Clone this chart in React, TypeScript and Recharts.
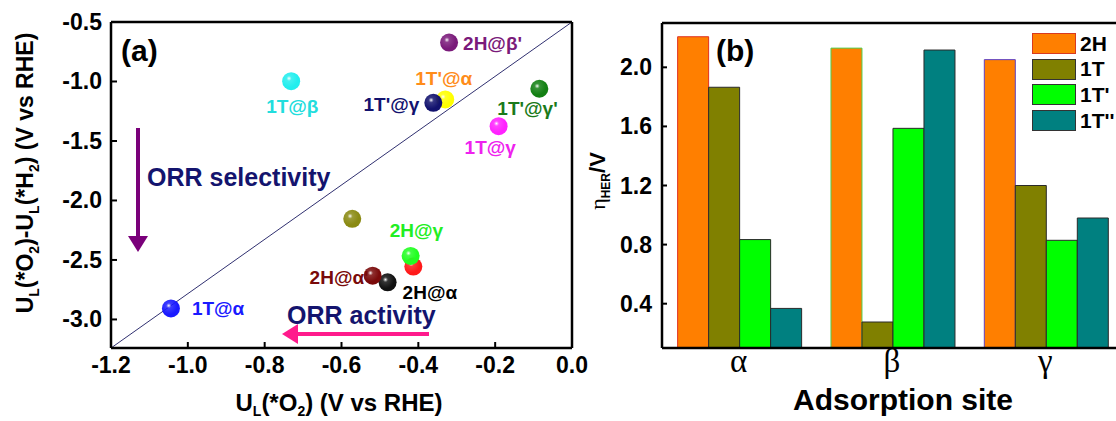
import React from 'react';
import {
  ScatterChart,
  Scatter,
  XAxis,
  YAxis,
  ReferenceLine,
  BarChart,
  Bar,
  Cell,
  Legend,
} from 'recharts';

// panel (a): limiting potentials
const pointLabels = ['1T@α', '', '2H@α', "2H@α'", '', '2H@γ', "2H@β'", "1T'@α", "1T'@γ", "1T'@γ'", '1T@γ', '1T@β'];
const uO2 = [-1.044, -0.572, -0.48, -0.519, -0.413, -0.42, -0.32, -0.33, -0.361, -0.085, -0.191, -0.731];
const uDiff = [-2.907, -2.154, -2.688, -2.632, -2.556, -2.466, -0.673, -1.151, -1.179, -1.061, -1.376, -0.997];
const xTicksA = [-1.2, -1.0, -0.8, -0.6, -0.4, -0.2, 0.0];
const yTicksA = [-3.0, -2.5, -2.0, -1.5, -1.0, -0.5];

// panel (b): HER overpotential
const sites = ['α', 'β', 'γ'];
const phases = ['2H', '1T', "1T'", "1T''"];
const eta2H = [2.207, 2.13, 2.052];
const eta1T = [1.865, 0.276, 1.2];
const eta1Tp = [0.834, 1.587, 0.829];
const eta1Tpp = [0.368, 2.117, 0.98];
const yTicksB = [0.4, 0.8, 1.2, 1.6, 2.0];

// styles
const ballColors = ['#1a1aff', '#8a8a12', '#111111', '#7a0a0a', '#ff1a1a', '#22ff22', '#7a1a7a', '#ffff00', '#12126e', '#138013', '#ff22ff', '#22eeee'];
const labelColors = ['#1a1aff', '#000', '#000000', '#7a0a0a', '#000', '#22ee22', '#7a1a7a', '#ff8c1a', '#12126e', '#1a7a1a', '#ee22ee', '#22dddd'];
const labelOffsets: [number, number, 'start' | 'end'][] = [
  [21, 0, 'start'], [0, 0, 'start'], [15, 10, 'start'], [-4, 1, 'end'], [0, 0, 'start'], [-21, -26, 'start'],
  [14, 0, 'start'], [-30, -21, 'start'], [-14, 1, 'end'], [-42, 19, 'start'], [-34, 21, 'start'], [-25, 25, 'start'],
];
const twoHStroke = ['#e03020', '#50d050', '#6040c0'];
const SANS = '"Liberation Sans", Arial, sans-serif';
const SERIF = '"Liberation Serif", "Times New Roman", serif';

const points = uO2.map((x, i) => ({ x, y: uDiff[i], label: pointLabels[i], idx: i }));
const bars = sites.map((site, i) => ({
  site,
  h2: eta2H[i],
  t1: eta1T[i],
  t1p: eta1Tp[i],
  t1pp: eta1Tpp[i],
}));

const Ball = (props: any) => {
  const { cx, cy, payload } = props;
  const i = payload.idx;
  const [dx, dy, anchor] = labelOffsets[i];
  const id = `ball-${i}`;
  return (
    <g>
      <defs>
        <radialGradient id={id} cx="38%" cy="35%" r="65%">
          <stop offset="0%" stopColor="#ffffff" />
          <stop offset="22%" stopColor={ballColors[i]} stopOpacity={0.85} />
          <stop offset="75%" stopColor={ballColors[i]} />
          <stop offset="100%" stopColor={ballColors[i]} />
        </radialGradient>
      </defs>
      <circle cx={cx} cy={cy} r={9} fill={`url(#${id})`} />
      {payload.label ? (
        <text
          x={cx + dx}
          y={cy + dy}
          dy={7}
          textAnchor={anchor}
          fill={labelColors[i]}
          fontFamily={SANS}
          fontWeight="bold"
          fontSize={19}
        >
          {payload.label}
        </text>
      ) : null}
    </g>
  );
};

const XTickA = ({ x, y, payload }: any) => (
  <g>
    <line x1={x} x2={x} y1={y - 8} y2={y - 14} stroke="#000" strokeWidth={2} />
    <text x={x} y={y} dy={17} textAnchor="middle" fontFamily={SANS} fontWeight="bold" fontSize={23} fill="#000">
      {Number(payload.value).toFixed(1)}
    </text>
  </g>
);

const YTickA = ({ x, y, payload }: any) => (
  <g>
    <line x1={x + 8} x2={x + 14} y1={y} y2={y} stroke="#000" strokeWidth={2} />
    <text x={x - 1} y={y} dy={8} textAnchor="end" fontFamily={SANS} fontWeight="bold" fontSize={23} fill="#000">
      {Number(payload.value).toFixed(1)}
    </text>
  </g>
);

const XTickB = ({ x, y, payload }: any) => (
  <text x={x} y={y} dy={22} textAnchor="middle" fontFamily={SERIF} fontSize={33} fill="#000">
    {payload.value}
  </text>
);

const YTickB = ({ x, y, payload }: any) => (
  <g>
    <line x1={x + 8} x2={x + 13} y1={y} y2={y} stroke="#000" strokeWidth={2} />
    <text x={x - 2} y={y} dy={8} textAnchor="end" fontFamily={SANS} fontWeight="bold" fontSize={23} fill="#000">
      {Number(payload.value).toFixed(1)}
    </text>
  </g>
);

const BarLegend = ({ payload }: any) => (
  <div>
    {(payload || []).map((p: any, i: number) => (
      <div key={i} style={{ display: 'flex', alignItems: 'center', height: 25.6 }}>
        <div
          style={{
            width: 44,
            height: 21,
            boxSizing: 'border-box',
            background: p.color,
            border: `1.5px solid ${p.value === '2H' ? '#d83a20' : '#333'}`,
          }}
        />
        <span style={{ marginLeft: 4, fontFamily: SANS, fontWeight: 'bold', fontSize: 21, color: '#000' }}>
          {p.value}
        </span>
      </div>
    ))}
  </div>
);

const axisLine = { stroke: '#000', strokeWidth: 2.5 };
const tickLine = { stroke: '#000', strokeWidth: 2 };

export default function App() {
  return (
    <div style={{ position: 'fixed', left: 0, top: 0, width: 1116, height: 421, overflow: 'hidden', background: '#fff' }}>
      <div style={{ position: 'absolute', left: 0, top: 0 }}>
        <ScatterChart width={600} height={421} margin={{ top: 22, right: 28, left: 51, bottom: 33 }}>
          <XAxis
            type="number"
            dataKey="x"
            domain={[-1.2, 0]}
            ticks={xTicksA}
            allowDataOverflow
            axisLine={axisLine}
            tickLine={false}
            tickSize={0}
            tickMargin={8}
            height={40}
            tick={<XTickA />}
          />
          <XAxis
            xAxisId="top"
            orientation="top"
            type="number"
            domain={[-1.2, 0]}
            ticks={xTicksA}
            allowDataOverflow
            mirror
            tick={false}
            tickSize={6}
            axisLine={axisLine}
            tickLine={tickLine}
          />
          <YAxis
            type="number"
            dataKey="y"
            domain={[-3.24, -0.5]}
            ticks={yTicksA}
            allowDataOverflow
            axisLine={axisLine}
            tickLine={false}
            tickSize={0}
            tickMargin={8}
            width={60}
            tick={<YTickA />}
          />
          <YAxis
            yAxisId="right"
            orientation="right"
            type="number"
            domain={[-3.24, -0.5]}
            ticks={yTicksA}
            allowDataOverflow
            mirror
            tick={false}
            tickSize={6}
            axisLine={axisLine}
            tickLine={tickLine}
          />
          <ReferenceLine
            segment={[
              { x: -1.2, y: -3.24 },
              { x: 0, y: -0.5 },
            ]}
            stroke="#303070"
            strokeWidth={1}
            ifOverflow="visible"
          />
          <Scatter data={points} shape={<Ball />} isAnimationActive={false} />
        </ScatterChart>
      </div>

      <div style={{ position: 'absolute', left: 580, top: 0 }}>
        <BarChart
          width={560}
          height={421}
          data={bars}
          margin={{ top: 23, right: 18, left: 22, bottom: 33 }}
          barCategoryGap="10.2%"
          barGap={0}
        >
          <XAxis
            dataKey="site"
            axisLine={axisLine}
            tickLine={false}
            tickSize={0}
            tickMargin={2}
            height={40}
            tick={<XTickB />}
          />
          <XAxis
            xAxisId="top"
            orientation="top"
            dataKey="site"
            mirror
            tick={false}
            tickSize={6}
            axisLine={axisLine}
            tickLine={tickLine}
          />
          <YAxis
            type="number"
            domain={[0.1, 2.3]}
            ticks={yTicksB}
            allowDataOverflow
            axisLine={axisLine}
            tickLine={false}
            tickSize={0}
            tickMargin={8}
            width={60}
            tick={<YTickB />}
          />
          <Legend
            layout="horizontal"
            verticalAlign="middle"
            align="center"
            content={<BarLegend />}
            itemSorter={(item: any) => phases.indexOf(item.value)}
            wrapperStyle={{ left: 452, top: 31, width: 120, height: 110 }}
          />
          <Bar dataKey="h2" name={phases[0]} fill="#ff7f00" isAnimationActive={false}>
            {bars.map((_, i) => (
              <Cell key={i} stroke={twoHStroke[i]} strokeWidth={1} />
            ))}
          </Bar>
          <Bar dataKey="t1" name={phases[1]} fill="#808000" stroke="#2a2a2a" strokeWidth={1} isAnimationActive={false} />
          <Bar dataKey="t1p" name={phases[2]} fill="#00ff00" stroke="#2a2a2a" strokeWidth={1} isAnimationActive={false} />
          <Bar dataKey="t1pp" name={phases[3]} fill="#008080" stroke="#2a2a2a" strokeWidth={1} isAnimationActive={false} />
        </BarChart>
      </div>

      <svg
        width={1116}
        height={421}
        style={{ position: 'absolute', left: 0, top: 0, pointerEvents: 'none' }}
      >
        <defs>
          <marker id="headPurple" markerWidth="4" markerHeight="5" refX="1" refY="2.5" orient="auto" markerUnits="strokeWidth">
            <path d="M0,0 L4,2.5 L0,5 z" fill="#7a007a" />
          </marker>
          <marker id="headPink" markerWidth="4" markerHeight="5" refX="1" refY="2.5" orient="auto" markerUnits="strokeWidth">
            <path d="M0,0 L4,2.5 L0,5 z" fill="#ff1a8c" />
          </marker>
        </defs>
        {/* panel (a) annotations */}
        <text x={121} y={61} fontFamily={SANS} fontWeight="bold" fontSize={30} fill="#000">(a)</text>
        <text x={147} y={186} fontFamily={SANS} fontWeight="bold" fontSize={25} fill="#14146e">ORR selectivity</text>
        <text x={287} y={324} fontFamily={SANS} fontWeight="bold" fontSize={25} fill="#14146e">ORR activity</text>
        <line x1={138} y1={128} x2={138} y2={240} stroke="#7a007a" strokeWidth={4} markerEnd="url(#headPurple)" />
        <line x1={429} y1={334} x2={294} y2={334} stroke="#ff1a8c" strokeWidth={4} markerEnd="url(#headPink)" />

        {/* axis titles (a) */}
        <text x={339} y={411} textAnchor="middle" fontFamily={SANS} fontWeight="bold" fontSize={24} fill="#000">
          U<tspan fontSize={14} dy={5}>L</tspan>
          <tspan dy={-5}>(*O</tspan>
          <tspan fontSize={14} dy={5}>2</tspan>
          <tspan dy={-5}>) (V vs RHE)</tspan>
        </text>
        <text
          transform="translate(33,173) rotate(-90)"
          textAnchor="middle"
          fontFamily={SANS}
          fontWeight="bold"
          fontSize={23}
          fill="#000"
        >
          U<tspan fontSize={14} dy={6}>L</tspan>
          <tspan dy={-6}>(*O</tspan>
          <tspan fontSize={14} dy={6}>2</tspan>
          <tspan dy={-6}>)-U</tspan>
          <tspan fontSize={14} dy={6}>L</tspan>
          <tspan dy={-6}>(*H</tspan>
          <tspan fontSize={14} dy={6}>2</tspan>
          <tspan dy={-6}>) (V vs RHE)</tspan>
        </text>

        {/* panel (b) annotations */}
        <text x={716} y={61} fontFamily={SANS} fontWeight="bold" fontSize={30} fill="#000">(b)</text>
        <text x={903} y={410} textAnchor="middle" fontFamily={SANS} fontWeight="bold" fontSize={30} fill="#000">
          Adsorption site
        </text>
        <text
          transform="translate(605,181) rotate(-90)"
          textAnchor="middle"
          fontSize={22}
          fill="#000"
        >
          <tspan fontFamily={SERIF}>η</tspan>
          <tspan fontFamily={SANS} fontWeight="bold" fontSize={12} dy={5}>HER</tspan>
          <tspan fontFamily={SANS} fontWeight="bold" dy={-5}>/V</tspan>
        </text>
      </svg>
    </div>
  );
}
